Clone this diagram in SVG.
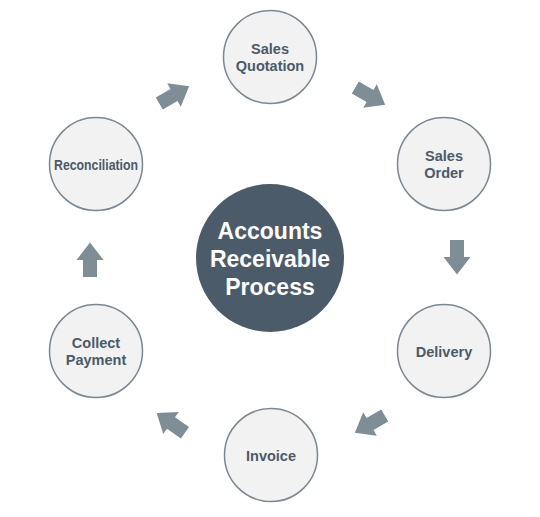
<svg xmlns="http://www.w3.org/2000/svg" width="540" height="517" viewBox="0 0 540 517">
  <defs>
    <style>
      .node circle { fill: #f2f2f2; stroke: #7b8892; stroke-width: 1.5; }
      .node text { font-family: "Liberation Sans", Arial, sans-serif; font-weight: bold; font-size: 14.5px; fill: #4b5a67; text-anchor: middle; }
      .hub circle { fill: #4b5b6a; }
      .hub text { font-family: "Liberation Sans", Arial, sans-serif; font-weight: bold; font-size: 23px; fill: #ffffff; text-anchor: middle; }
      .arrow { fill: #7f8d96; }
    </style>
    <path id="blk" d="M-17,-7 H0 V-13.5 L17.5,0 L0,13.5 V7 H-17 Z"/>
  </defs>
  <rect width="540" height="517" fill="#ffffff"/>

  <g id="hub" class="hub">
    <circle cx="270" cy="258" r="74"/>
    <text x="270" y="239">Accounts</text>
    <text x="270" y="267">Receivable</text>
    <text x="270" y="295">Process</text>
  </g>

  <g id="sales-quotation" class="node">
    <circle cx="270" cy="57" r="46.5"/>
    <text x="270" y="53.5">Sales</text>
    <text x="270" y="70.5">Quotation</text>
  </g>
  <g id="sales-order" class="node">
    <circle cx="444" cy="164" r="46.5"/>
    <text x="444" y="160.5">Sales</text>
    <text x="444" y="177.5">Order</text>
  </g>
  <g id="delivery" class="node">
    <circle cx="444" cy="351" r="46.5"/>
    <text x="444" y="356.5">Delivery</text>
  </g>
  <g id="invoice" class="node">
    <circle cx="271" cy="455" r="46.5"/>
    <text x="271" y="460.5">Invoice</text>
  </g>
  <g id="collect-payment" class="node">
    <circle cx="96" cy="351" r="46.5"/>
    <text x="96" y="347.5">Collect</text>
    <text x="96" y="364.5">Payment</text>
  </g>
  <g id="reconciliation" class="node">
    <circle cx="96" cy="164" r="46.5"/>
    <text x="96" y="169.5" textLength="84" lengthAdjust="spacingAndGlyphs">Reconciliation</text>
  </g>

  <g id="connectors" class="arrow">
    <use href="#blk" transform="translate(174,95) rotate(-30)"/>
    <use href="#blk" transform="translate(370,96) rotate(30)"/>
    <use href="#blk" transform="translate(457,257) rotate(90)"/>
    <use href="#blk" transform="translate(370,424) rotate(150)"/>
    <use href="#blk" transform="translate(171,423) rotate(-145)"/>
    <use href="#blk" transform="translate(90,260) rotate(-90)"/>
  </g>
</svg>
